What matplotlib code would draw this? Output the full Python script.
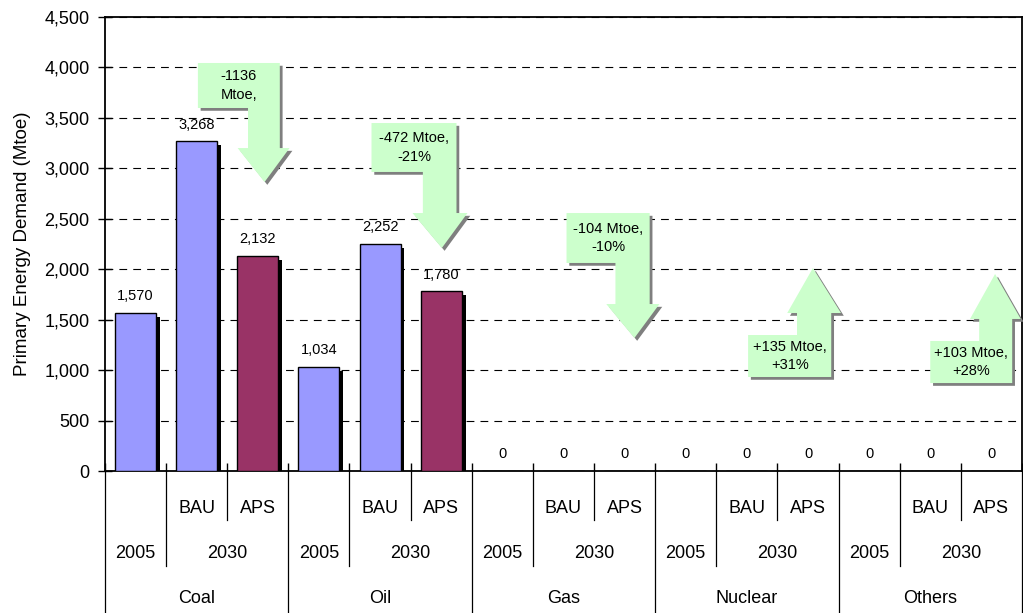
import numpy as np
import matplotlib
matplotlib.use('Agg')
import matplotlib.pyplot as plt
import matplotlib.patheffects as pe
import matplotlib.transforms as mtrans
from matplotlib.patches import Polygon

plt.rcParams['font.family'] = ['Liberation Sans', 'DejaVu Sans']

# Data
fuels = ['Coal', 'Oil', 'Gas', 'Nuclear', 'Others']
years = ['2005', '2030']
scenarios = ['', 'BAU', 'APS']
demand = [1570, 3268, 2132,
          1034, 2252, 1780,
          0, 0, 0,
          0, 0, 0,
          0, 0, 0]
arrow_labels = ['-1136\nMtoe,', '-472 Mtoe,\n-21%', '-104 Mtoe,\n-10%',
                '+135 Mtoe,\n+31%', '+103 Mtoe,\n+28%']

# colours
blue = '#9999FF'
plum = '#993366'
green = '#CCFFCC'

# Arrow shapes (layout): box left/right, outer/inner box edge, shaft left,
# head base, head left/right, tip x/y
arrow_shapes = [
    (1.52, 2.86, 4044, 3598, 2.34, 3201, 2.17, 3.02, 2.61, 2864),
    (4.36, 5.75, 3449, 2964, 5.20, 2557, 5.03, 5.93, 5.51, 2210),
    (7.55, 8.91, 2557, 2062, 8.35, 1655, 8.20, 9.07, 8.66, 1318),
    (10.52, 11.88, 932, 1348, 11.32, 1566, 11.16, 12.04, 11.58, 2012),
    (13.50, 14.84, 872, 1289, 14.30, 1507, 14.15, 14.98, 14.56, 1953),
]

fig = plt.figure(figsize=(10.23, 6.13), dpi=100)
ax = fig.add_axes([0.1026, 0.2316, 0.8964, 0.7407])

n = len(demand)
x = np.arange(n) + 0.5
colors = [plum if (i % 3) == 2 else blue for i in range(n)]
bars = ax.bar(x, demand, width=0.67, color=colors, edgecolor='black', linewidth=1, zorder=3)
for b in bars:
    b.set_path_effects([pe.SimplePatchShadow(offset=(2.8, -2.8), shadow_rgbFace='black', alpha=1.0),
                        pe.Normal()])

for xi, v in zip(x, demand):
    ax.annotate(f'{v:,}', (xi, v), xytext=(0, 7), textcoords='offset points',
                ha='center', va='bottom', fontsize=10.5)

ax.set_xlim(0, n)
ax.set_ylim(0, 4500)
ax.set_yticks(np.arange(0, 4501, 500))
ax.set_yticklabels([f'{t:,}' for t in range(0, 4501, 500)], fontsize=13)
ax.set_xticks(np.arange(0, n + 1))
ax.set_xticklabels([])
ax.tick_params(axis='x', direction='in', length=6, width=1)
ax.tick_params(axis='y', direction='inout', length=10, width=1, pad=6)
ax.yaxis.grid(True, linestyle=(0, (7, 5.5)), color='black', linewidth=0.8)
ax.set_axisbelow(True)
for s in ax.spines.values():
    s.set_linewidth(1.3)
ax.set_ylabel('Primary Energy Demand (Mtoe)', fontsize=13.5, labelpad=10)

# down / up block arrows
for (bl, br, yo, yi, sl, hb, hl, hr, tx, ty), lab in zip(arrow_shapes, arrow_labels):
    pts = [(bl, yo), (br, yo), (br, hb), (hr, hb), (tx, ty), (hl, hb), (sl, hb), (sl, yi), (bl, yi)]
    poly = Polygon(pts, closed=True, facecolor=green, edgecolor='none', zorder=5, clip_on=False)
    poly.set_path_effects([pe.SimplePatchShadow(offset=(2, -2), shadow_rgbFace='#7f7f7f', alpha=1.0),
                           pe.Normal()])
    ax.add_patch(poly)
    ax.text((bl + br) / 2, (yo + yi) / 2, lab, ha='center', va='center', fontsize=10.5,
            linespacing=1.45, zorder=6)

# multi-level category axis below the plot
trans = mtrans.blended_transform_factory(ax.transData, ax.transAxes)
for k, fuel in enumerate(fuels):
    base = 3 * k
    for j in (1, 2):
        ax.text(base + j + 0.5, -0.0815, scenarios[j], transform=trans,
                ha='center', va='center', fontsize=13)
    ax.text(base + 0.5, -0.181, years[0], transform=trans, ha='center', va='center', fontsize=13)
    ax.text(base + 2.0, -0.181, years[1], transform=trans, ha='center', va='center', fontsize=13)
    ax.text(base + 1.5, -0.280, fuel, transform=trans, ha='center', va='center', fontsize=13)
    ax.plot([base, base], [0, -0.32], transform=trans, color='black', lw=0.9, clip_on=False)
    ax.plot([base + 1, base + 1], [0, -0.209], transform=trans, color='black', lw=0.9, clip_on=False)
    ax.plot([base + 2, base + 2], [0, -0.108], transform=trans, color='black', lw=0.9, clip_on=False)
ax.plot([n, n], [0, -0.32], transform=trans, color='black', lw=0.9, clip_on=False)

fig.savefig('out.png', dpi=100)
